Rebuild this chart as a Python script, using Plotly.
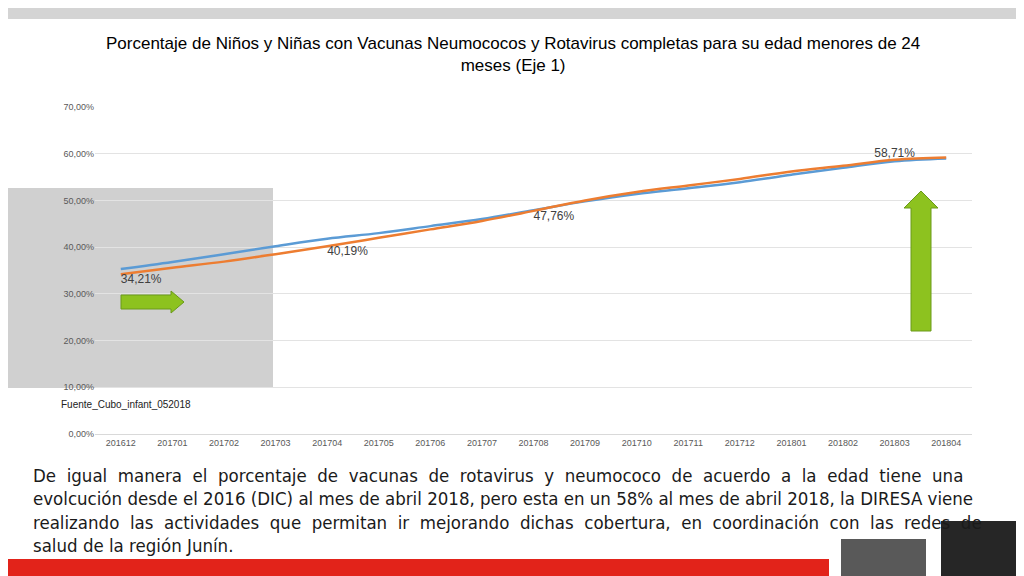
import plotly.graph_objects as go

months = ["201612","201701","201702","201703","201704","201705","201706","201707","201708",
          "201709","201710","201711","201712","201801","201802","201803","201804"]
serie_azul = [35.3, 36.8, 38.5, 40.2, 41.8, 43.0, 44.5, 46.0, 47.9, 49.8, 51.4, 52.6, 53.9, 55.5, 57.0, 58.4, 59.0]
serie_naranja = [34.21, 35.6, 36.9, 38.5, 40.19, 42.0, 43.8, 45.6, 47.76, 50.0, 51.8, 53.2, 54.6, 56.2, 57.4, 58.71, 59.2]
label_idx = [0, 4, 8, 15]

W, H = 1024, 576
OFF = 7
L, R, T, B = 94 - OFF, 53 + OFF, 106 - OFF, 143 + OFF
pw, ph = W - L - R, H - T - B
def px(x): return (x - OFF - L) / pw
def py(y): return (H - B - (y - OFF)) / ph

fig = go.Figure()
fig.add_trace(go.Scatter(x=months, y=[v/100 for v in serie_azul], mode="lines",
                         line=dict(color="#5b9bd5", width=2.5), line_shape="spline", hoverinfo="skip"))
fig.add_trace(go.Scatter(x=months, y=[v/100 for v in serie_naranja], mode="lines",
                         line=dict(color="#ed7d31", width=2.5), line_shape="spline", hoverinfo="skip"))
fig.add_trace(go.Scatter(x=[months[i] for i in label_idx], y=[serie_naranja[i]/100 for i in label_idx],
                         mode="text", text=[f"{serie_naranja[i]:.2f}%".replace(".", ",") for i in label_idx],
                         textposition=["bottom right", "bottom right", "bottom right", "top center"],
                         textfont=dict(size=12, color="#404040", family="Liberation Sans"),
                         hoverinfo="skip"))

shapes = [
    dict(type="rect", x0=px(0), x1=px(272), y0=py(387), y1=py(187), fillcolor="#d0d0d0", line_width=0, layer="below"),
    dict(type="rect", x0=px(0), x1=px(1024), y0=py(0), y1=py(18), fillcolor="#d4d4d4", line_width=0),
    dict(type="rect", x0=px(0), x1=px(828), y0=py(558), y1=py(576), fillcolor="#e2231a", line_width=0),
    dict(type="rect", x0=px(840), x1=px(925), y0=py(538), y1=py(576), fillcolor="#595959", line_width=0),
    dict(type="rect", x0=px(940), x1=px(1024), y0=py(520), y1=py(576), fillcolor="#262626", line_width=0),
]
ra = [(120,294),(170,294),(170,290),(183,301),(170,312),(170,308),(120,308)]
ua = [(910,330),(910,207),(903,207),(920,190),(937,207),(930,207),(930,330)]
for pts in (ra, ua):
    path = "M " + " L ".join(f"{px(a)},{py(b)}" for a, b in pts) + " Z"
    shapes.append(dict(type="path", path=path, fillcolor="#8dc21f", line=dict(color="#6a9a1a", width=1)))
for s in shapes:
    s.update(xref="paper", yref="paper")

ann = [
    dict(x=px(512), y=py(54), text="Porcentaje de Niños y Niñas con Vacunas Neumococos y Rotavirus completas para su edad menores de 24<br>meses (Eje 1)",
         font=dict(size=17, color="#000", family="Liberation Sans")),
    dict(x=px(58), y=py(403), text="Fuente_Cubo_infant_052018", xanchor="left",
         font=dict(size=10, color="#222", family="Liberation Sans")),
]
para = ["De  igual  manera  el  porcentaje  de  vacunas  de  rotavirus  y  neumococo  de  acuerdo  a  la  edad  tiene  una",
        "evolcución desde el 2016 (DIC) al mes de abril 2018, pero esta en un 58% al mes de abril 2018, la DIRESA viene",
        "realizando  las  actividades  que  permitan  ir  mejorando  dichas  cobertura,  en  coordinación  con  las  redes  de",
        "salud de la región Junín."]
for i, line in enumerate(para):
    ann.append(dict(x=px(30), y=py(474 + i*23.5), text=line, xanchor="left",
                    font=dict(size=18.5, color="#1a1a1a", family="DejaVu Sans Condensed, Liberation Sans")))
for a in ann:
    a.update(xref="paper", yref="paper", showarrow=False, yanchor="middle")
    a.setdefault("xanchor", "center")

fig.update_layout(
    width=W, height=H, margin=dict(l=L, r=R, t=T, b=B), showlegend=False,
    paper_bgcolor="white", plot_bgcolor="white", separators=",.",
    shapes=shapes, annotations=ann,
    xaxis=dict(type="category", range=[-0.5, 16.5], showgrid=False, showline=True, linecolor="#d9d9d9",
               tickfont=dict(size=9, color="#595959", family="Liberation Sans"), ticks=""),
    yaxis=dict(range=[0, 0.7], dtick=0.1, tickformat=".2%", gridcolor="#e3e3e3", zeroline=False,
               tickfont=dict(size=9, color="#595959", family="Liberation Sans"), ticks=""),
)
fig.write_html("out.html")
